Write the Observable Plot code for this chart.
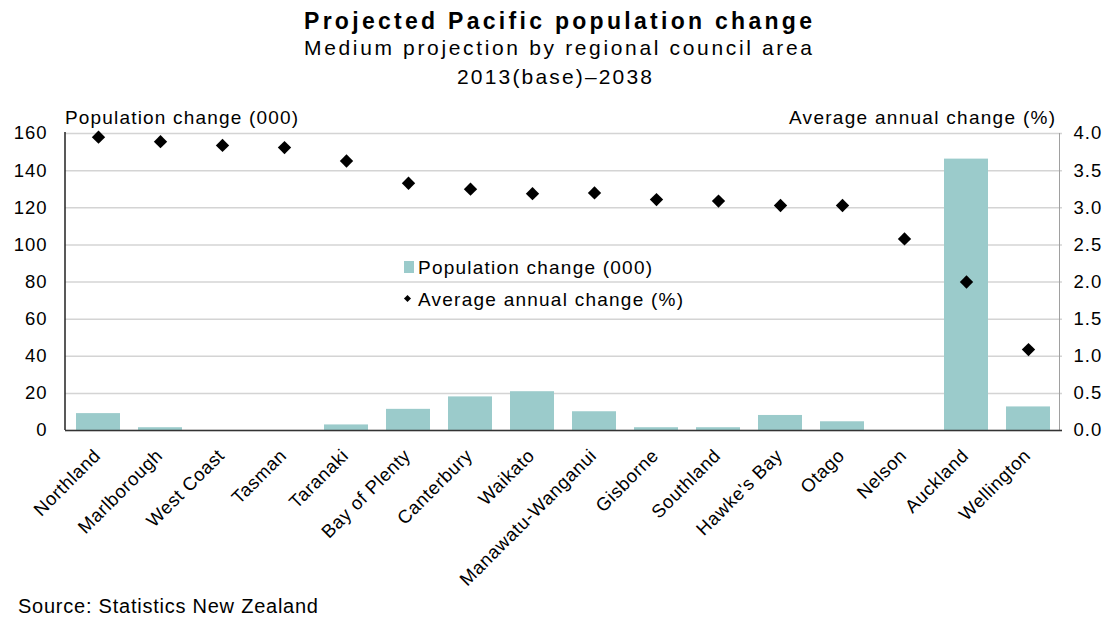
<!DOCTYPE html>
<html>
<head>
<meta charset="utf-8">
<script src="https://cdn.jsdelivr.net/npm/d3@7"></script>
<script src="https://cdn.jsdelivr.net/npm/@observablehq/plot@0.6"></script>
<style>
  body { margin: 0; background: #fff; font-family: "Liberation Sans", Arial, sans-serif; }
  #wrap { position: relative; width: 1113px; height: 618px; overflow: hidden; }
  .t { position: absolute; white-space: nowrap; color: #000; line-height: 1; }
  #chart { position: absolute; left: 0; top: 0; }
</style>
</head>
<body>
<div id="wrap">
  <div id="chart"></div>
</div>
<script>
const regions = ["Northland","Marlborough","West Coast","Tasman","Taranaki","Bay of Plenty","Canterbury","Waikato","Manawatu-Wanganui","Gisborne","Southland","Hawke's Bay","Otago","Nelson","Auckland","Wellington"];
const popChange = [9.1, 1.5, 0, 0, 3.0, 11.4, 18.1, 20.9, 10.1, 1.5, 1.5, 8.1, 4.7, 0, 146.2, 12.7];
const annualPct = [3.95, 3.89, 3.84, 3.81, 3.63, 3.33, 3.25, 3.19, 3.20, 3.11, 3.09, 3.03, 3.03, 2.58, 2.00, 1.09];
const leftTicks = [0, 20, 40, 60, 80, 100, 120, 140, 160];
const pctScale = 40; // 4.0% on right axis = 160 on left axis

const title = "Projected Pacific population change";
const subtitle = "Medium projection by regional council area";
const period = "2013(base)–2038";
const leftLabel = "Population change (000)";
const rightLabel = "Average annual change (%)";
const source = "Source: Statistics New Zealand";

const data = regions.map((r, i) => ({region: r, pop: popChange[i], pct: annualPct[i]}));

const chart = Plot.plot({
  width: 1113,
  height: 618,
  marginLeft: 65,
  marginRight: 51,
  marginTop: 133,
  marginBottom: 188,
  style: {fontFamily: "Liberation Sans, Arial, sans-serif", fontSize: "18px", color: "#000", background: "transparent"},
  x: {domain: regions, paddingInner: 0.29, paddingOuter: 0.145, label: null},
  y: {domain: [0, 160], label: null},
  marks: [
    Plot.gridY(leftTicks, {stroke: "#d4d4d4", strokeOpacity: 1, strokeWidth: 1.5}),
    Plot.ruleX([regions[regions.length - 1]], {stroke: "#a0a0a0", dx: 31, strokeWidth: 1}),
    Plot.barY(data, {x: "region", y: "pop", fill: "#9bcbcb"}),
    Plot.ruleY([0], {stroke: "#333", strokeWidth: 1.5}),
    Plot.axisY({anchor: "left", ticks: leftTicks, tickSize: 0, tickPadding: 18, label: null, fontSize: 18.5, className: "ly"}),
    Plot.axisY({anchor: "right", ticks: leftTicks, tickSize: 0, tickPadding: 11, label: null, fontSize: 18.5, className: "ry", tickFormat: d => (d / pctScale).toFixed(1)}),
    Plot.axisX({tickRotate: -45, tickSize: 0, tickPadding: 22, dx: -1, label: null, fontSize: 18.5, className: "xl"}),
    Plot.dot(data, {x: "region", y: d => d.pct * pctScale, symbol: "diamond2", r: 6, fill: "#000", stroke: "none"})
  ]
});
document.getElementById("chart").appendChild(chart);
d3.select(chart).selectAll(".ly text, .ry text").style("letter-spacing", "1px");
d3.select(chart).selectAll(".xl text").style("letter-spacing", "0.6px");
// left axis line
d3.select(chart).append("line").attr("x1", 65).attr("x2", 65).attr("y1", 132).attr("y2", 430).attr("stroke", "#222").attr("stroke-width", 1.5);

// HTML text (title, axis titles, legend, source), fitted to measured widths
const wrap = document.getElementById("wrap");
function addText(text, x, baseline, size, target, weight) {
  const el = document.createElement("div");
  el.className = "t";
  el.style.fontSize = size + "px";
  el.style.fontWeight = weight || "normal";
  const span = document.createElement("span");
  span.textContent = text;
  el.appendChild(span);
  wrap.appendChild(el);
  const w = span.getBoundingClientRect().width;
  const ls = (target - w) / (text.length - 1);
  span.style.letterSpacing = ls + "px";
  el.style.left = x + "px";
  el.style.top = (baseline - 0.8465 * size) + "px";
  return el;
}
addText(title, 304, 29.5, 23, 508, "bold");
addText(subtitle, 304, 55, 21, 508);
addText(period, 457, 83.5, 21, 195);
addText(leftLabel, 65, 124, 19, 233);
addText(rightLabel, 789, 124, 19, 266);
addText(leftLabel, 418, 274, 19, 234);
addText(rightLabel, 418, 306.5, 19, 265);
addText(source, 18, 613, 20, 300);
// legend swatches
const sq = document.createElement("div");
sq.style.cssText = "position:absolute;left:404px;top:261px;width:10px;height:12px;background:#9bcbcb;";
wrap.appendChild(sq);
const dm = document.createElement("div");
dm.style.cssText = "position:absolute;left:405px;top:296px;width:5px;height:5px;background:#000;transform:rotate(45deg);";
wrap.appendChild(dm);
</script>
</body>
</html>
